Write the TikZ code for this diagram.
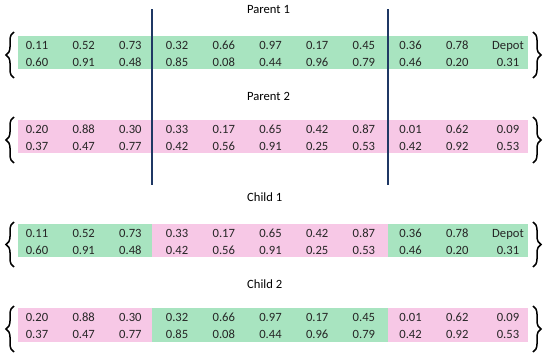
\documentclass[tikz,border=0pt]{standalone}
\usepackage{fontspec}
\setmainfont{Carlito}
\usetikzlibrary{decorations.pathreplacing}

\definecolor{genegreen}{RGB}{168,228,192}
\definecolor{genepink}{RGB}{247,200,230}
\definecolor{cutblue}{RGB}{31,56,100}

\begin{document}
\begin{tikzpicture}[
    x=1pt, y=-1pt,
    font=\fontsize{12.6}{14}\selectfont,
    cell/.style={inner sep=0pt, text height=8.2pt, text depth=0pt, text=black!85},
    title/.style={anchor=west, inner sep=0pt, text height=8.2pt, text depth=0pt},
    curly/.style={decorate, decoration={brace, amplitude=8pt}, line width=1.5pt},
    cutline/.style={draw=cutblue, line width=1.3pt}
]
\useasboundingbox (0,0) rectangle (550,359);
\def\colpos{{37,83.7,130.4,177.1,223.8,270.5,317.2,363.9,410.6,457.3,508}}

% ============================================================
% PARENT 1
% ============================================================
\fill[genegreen] (18,36) rectangle (528,69);
\node[title] (tparent1) at (247,9) {Parent 1};
\foreach \v [count=\i from 0] in {0.11,0.52,0.73,0.32,0.66,0.97,0.17,0.45,0.36,0.78,Depot}
  {\pgfmathsetmacro\cx{\colpos[\i]}\node[cell] (pa\i) at (\cx,45) {\v};}
\foreach \v [count=\i from 0] in {0.60,0.91,0.48,0.85,0.08,0.44,0.96,0.79,0.46,0.20,0.31}
  {\pgfmathsetmacro\cx{\colpos[\i]}\node[cell] (pb\i) at (\cx,62) {\v};}
\draw[curly] (14,78) -- (14,32);
\draw[curly] (533,32) -- (533,78);

% ============================================================
% PARENT 2
% ============================================================
\fill[genepink] (18,120) rectangle (528,153);
\node[title] (tparent2) at (247,96) {Parent 2};
\foreach \v [count=\i from 0] in {0.20,0.88,0.30,0.33,0.17,0.65,0.42,0.87,0.01,0.62,0.09}
  {\pgfmathsetmacro\cx{\colpos[\i]}\node[cell] (qa\i) at (\cx,129) {\v};}
\foreach \v [count=\i from 0] in {0.37,0.47,0.77,0.42,0.56,0.91,0.25,0.53,0.42,0.92,0.53}
  {\pgfmathsetmacro\cx{\colpos[\i]}\node[cell] (qb\i) at (\cx,146) {\v};}
\draw[curly] (14,163) -- (14,117);
\draw[curly] (533,117) -- (533,163);

% cut points
\coordinate (cutAtop) at (152,9);
\coordinate (cutAbot) at (152,185);
\coordinate (cutBtop) at (388,9);
\coordinate (cutBbot) at (388,185);
\draw[cutline] (cutAtop) -- (cutAbot);
\draw[cutline] (cutBtop) -- (cutBbot);

% ============================================================
% CHILD 1
% ============================================================
\fill[genegreen] (18,224) rectangle (152,257);
\fill[genepink] (152,224) rectangle (388,257);
\fill[genegreen] (388,224) rectangle (528,257);
\node[title] (tchild1) at (247,197) {Child 1};
\foreach \v [count=\i from 0] in {0.11,0.52,0.73,0.33,0.17,0.65,0.42,0.87,0.36,0.78,Depot}
  {\pgfmathsetmacro\cx{\colpos[\i]}\node[cell] (ca\i) at (\cx,233) {\v};}
\foreach \v [count=\i from 0] in {0.60,0.91,0.48,0.42,0.56,0.91,0.25,0.53,0.46,0.20,0.31}
  {\pgfmathsetmacro\cx{\colpos[\i]}\node[cell] (cb\i) at (\cx,250) {\v};}
\draw[curly] (14,267) -- (14,222);
\draw[curly] (533,222) -- (533,267);

% ============================================================
% CHILD 2
% ============================================================
\fill[genepink] (18,308) rectangle (152,342);
\fill[genegreen] (152,308) rectangle (388,342);
\fill[genepink] (388,308) rectangle (528,342);
\node[title] (tchild2) at (247,284) {Child 2};
\foreach \v [count=\i from 0] in {0.20,0.88,0.30,0.32,0.66,0.97,0.17,0.45,0.01,0.62,0.09}
  {\pgfmathsetmacro\cx{\colpos[\i]}\node[cell] (da\i) at (\cx,317) {\v};}
\foreach \v [count=\i from 0] in {0.37,0.47,0.77,0.85,0.08,0.44,0.96,0.79,0.42,0.92,0.53}
  {\pgfmathsetmacro\cx{\colpos[\i]}\node[cell] (db\i) at (\cx,334) {\v};}
\draw[curly] (14,352) -- (14,306);
\draw[curly] (533,306) -- (533,352);

\end{tikzpicture}
\end{document}
